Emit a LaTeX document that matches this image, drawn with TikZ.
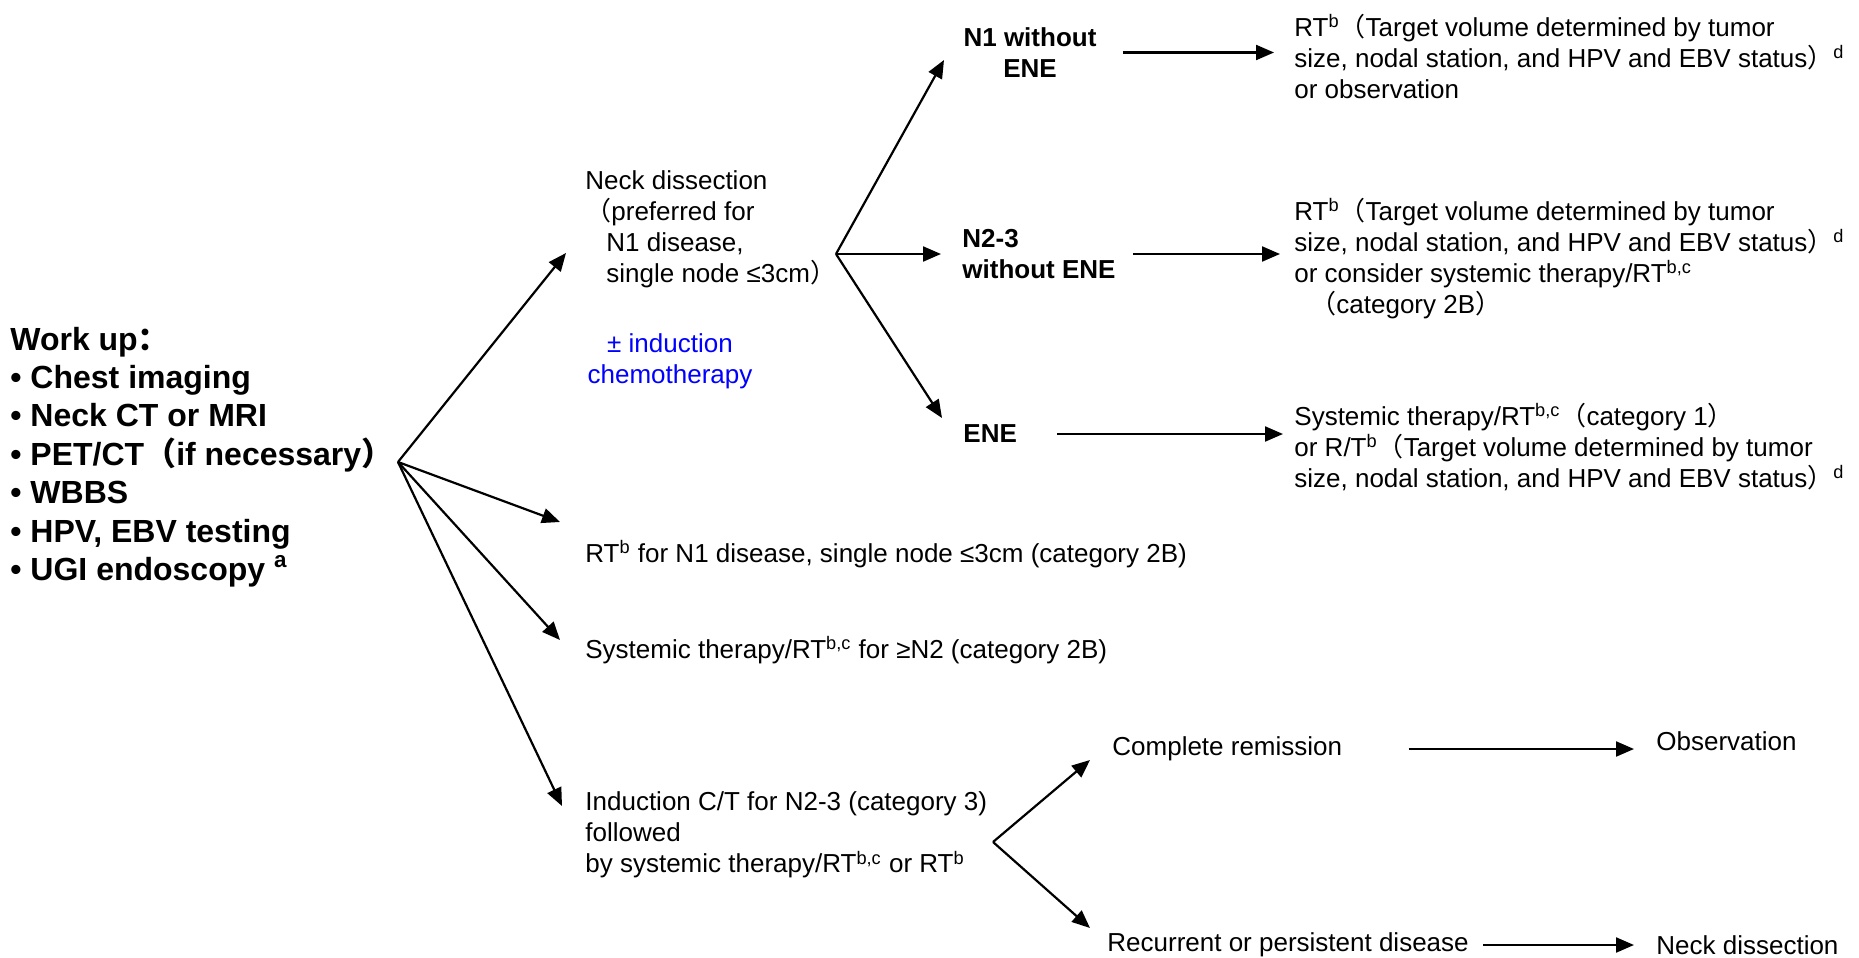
\documentclass[tikz,border=0pt]{standalone}
\usepackage{fontspec}
\setmainfont{Liberation Sans}
\newfontfamily\cjk{Noto Sans CJK SC}
\usetikzlibrary{arrows.meta}
% full-width punctuation
\newcommand{\flp}{{\cjk （}}
\newcommand{\frp}{{\cjk ）}}
\newcommand{\fcolon}{{\cjk ：}}
\begin{document}
\begin{tikzpicture}[x=0.5pt,y=-0.5pt]
\tikzset{
  arr/.style={line width=1.1pt,-{Triangle[length=9pt,width=7.5pt]}},
  txt/.style={inner sep=0pt,font=\fontsize{13}{15.5}\selectfont,align=left},
  hd/.style={inner sep=0pt,font=\bfseries\fontsize{13}{15.5}\selectfont},
}
\useasboundingbox[fill=white] (0,0) rectangle (1859,958);

% work-up list
\node[inner sep=0pt,anchor=west,align=left,font=\bfseries\fontsize{16}{19.2}\selectfont] (wu) at (10,457)
  {Work up\fcolon\\
   • Chest imaging\\
   • Neck CT or MRI\\
   • PET/CT\flp if necessary\frp\\
   • WBBS\\
   • HPV, EBV testing\\
   • UGI endoscopy \textsuperscript{a}};
\coordinate (root) at (398,462);

% first-level options
\node[txt,anchor=west] (nd) at (585,229)
  {Neck dissection\\
   \flp preferred for\\
   \hspace*{10.5pt}N1 disease,\\
   \hspace*{10.5pt}single node ≤3cm\frp};
\node[txt,align=center,text=blue] (ic) at (670,361) {± induction\\chemotherapy};
\node[txt,anchor=west] (rtn1) at (585,554)
  {RT\textsuperscript{b} for N1 disease, single node ≤3cm (category 2B)};
\node[txt,anchor=west] (sysn2) at (585,650)
  {Systemic therapy/RT\textsuperscript{b,c} for ≥N2 (category 2B)};
\node[txt,anchor=west] (ind) at (585,835)
  {Induction C/T for N2-3 (category 3)\\
   followed\\
   by systemic therapy/RT\textsuperscript{b,c} or RT\textsuperscript{b}};

\coordinate (tnd) at (566,253);
\coordinate (trt) at (560,522);
\coordinate (tsys) at (560,640);
\coordinate (tind) at (562,806);
\draw[arr] (root) -- (tnd);
\draw[arr] (root) -- (trt);
\draw[arr] (root) -- (tsys);
\draw[arr] (root) -- (tind);

% after neck dissection
\coordinate (b2) at (836,254);
\node[hd,align=center] (n1) at (1030,52.5) {N1 without\\ENE};
\node[hd,anchor=west,align=left] (n23) at (962,254) {N2-3\\without ENE};
\node[hd,anchor=west] (ene) at (963,434) {ENE};
\coordinate (tn1) at (944,60);
\coordinate (tn23) at (941,254);
\coordinate (tene) at (942,418);
\draw[arr] (b2) -- (tn1);
\draw[arr] (b2) -- (tn23);
\draw[arr] (b2) -- (tene);

\node[txt,anchor=west] (rt1) at (1294,56)
  {RT\textsuperscript{b}\flp Target volume determined by tumor\\
   size, nodal station, and HPV and EBV status\frp\textsuperscript{d}\\
   or observation};
\node[txt,anchor=west] (rt2) at (1294,258.5)
  {RT\textsuperscript{b}\flp Target volume determined by tumor\\
   size, nodal station, and HPV and EBV status\frp\textsuperscript{d}\\
   or consider systemic therapy/RT\textsuperscript{b,c}\\
   \hspace*{8pt}\flp category 2B\frp};
\node[txt,anchor=west] (rt3) at (1294,447)
  {Systemic therapy/RT\textsuperscript{b,c}\flp category 1\frp\\
   or R/T\textsuperscript{b}\flp Target volume determined by tumor\\
   size, nodal station, and HPV and EBV status\frp\textsuperscript{d}};

\draw[arr,shorten <=13pt,shorten >=10pt] (n1.east) -- (n1.east -| rt1.west);
\draw[arr,shorten <=8.5pt,shorten >=7pt] (n23.east) -- (n23.east -| rt2.west);
\draw[arr,shorten <=20pt,shorten >=5.5pt] (ene.east) -- (ene.east -| rt3.west);

% after induction chemotherapy
\coordinate (b3) at (993,842);
\node[txt,anchor=west] (cr) at (1112,749) {Complete remission};
\node[txt,anchor=west] (rec) at (1107,945) {Recurrent or persistent disease};
\node[txt,anchor=west] (obs) at (1656,741) {Observation};
\node[txt,anchor=west] (nd2) at (1656,945) {Neck dissection};
\coordinate (tcr) at (1090,760);
\coordinate (trec) at (1090,928);
\draw[arr] (b3) -- (tcr);
\draw[arr] (b3) -- (trec);
\draw[arr,shorten <=33pt,shorten >=11pt] (cr.east) -- (cr.east -| obs.west);
\draw[arr,shorten <=7pt,shorten >=11pt] (rec.east) -- (rec.east -| nd2.west);
\end{tikzpicture}
\end{document}
